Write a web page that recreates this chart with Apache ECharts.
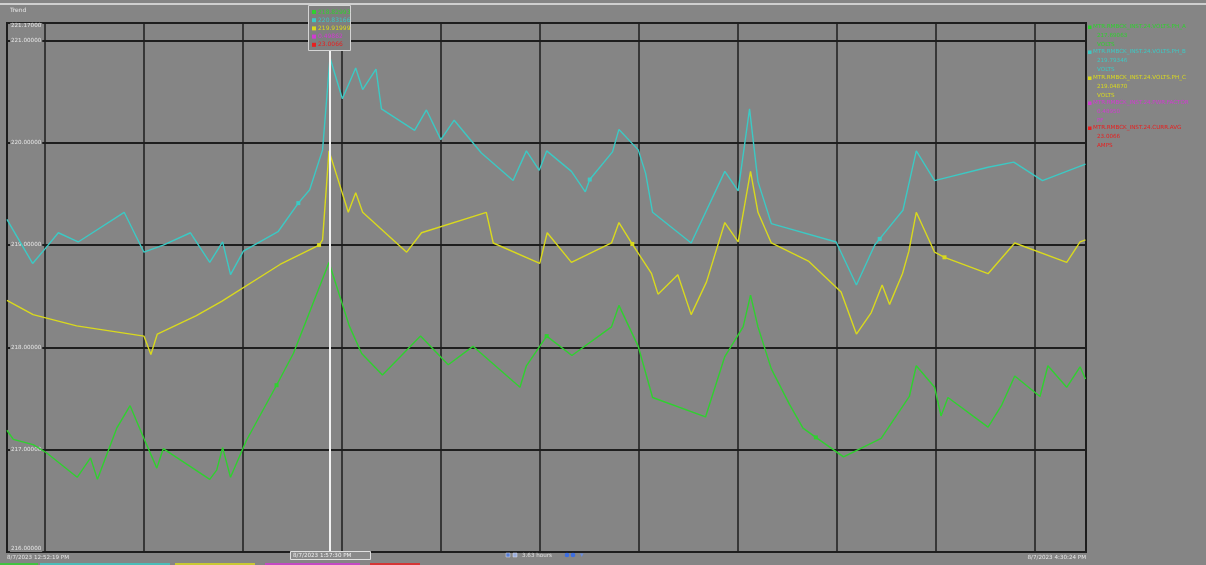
<!DOCTYPE html>
<html><head><meta charset="utf-8">
<script src="https://cdn.jsdelivr.net/npm/echarts@6/dist/echarts.min.js"></script>
<style>html,body{margin:0;padding:0;background:#858585;}#c{width:1206px;height:565px;}</style>
</head><body><div id="c"></div>
<script>
// time in minutes since midnight, values in trend units
const xMin = 772.32, xMax = 990.4, cursorT = 837.5;
const yTicks = [216, 217, 218, 219, 220, 221];

const greenTimes = [772.3,773.6,777.6,780.3,786.5,789.2,790.6,794.5,797.2,800.0,802.6,803.9,813.3,814.7,815.9,817.5,820.7,826.8,830.2,837.4,841.5,844.0,848.2,855.9,861.5,866.5,876.0,877.3,881.4,886.5,894.5,896.0,899.9,902.8,913.5,917.4,921.1,922.6,924.1,926.8,930.5,933.2,935.8,941.4,949.0,954.7,956.1,959.8,961.1,962.5,970.6,973.3,976.0,981.1,982.7,986.5,989.2,990.3];
const greenValues = [217.19,217.10,217.05,216.97,216.73,216.92,216.71,217.21,217.43,217.11,216.82,217.01,216.71,216.80,217.02,216.73,217.09,217.63,217.94,218.83,218.21,217.94,217.73,218.11,217.83,218.01,217.61,217.82,218.11,217.92,218.20,218.41,218.01,217.51,217.32,217.91,218.20,218.51,218.20,217.79,217.44,217.21,217.12,216.93,217.11,217.52,217.82,217.61,217.33,217.51,217.22,217.43,217.72,217.52,217.82,217.61,217.81,217.69];
const greenMarkers = [17, 28, 42];

const cyanTimes = [772.3,777.5,780.3,782.7,786.7,796.0,800.0,803.9,809.4,813.3,815.9,817.5,820.1,827.1,831.2,833.5,836.1,837.6,840.1,842.8,844.2,846.9,848.0,854.7,857.1,860.0,862.7,868.2,874.6,877.3,879.9,881.4,886.4,889.2,890.1,894.7,896.0,899.9,901.4,902.8,910.6,917.4,920.1,922.4,924.1,926.8,939.9,944.0,947.7,948.7,953.4,956.1,959.8,970.6,975.8,981.6,990.3];
const cyanValues = [219.25,218.82,218.98,219.12,219.03,219.32,218.93,219.00,219.12,218.83,219.03,218.71,218.94,219.13,219.41,219.54,219.93,220.83,220.43,220.73,220.52,220.72,220.33,220.12,220.32,220.03,220.22,219.90,219.63,219.92,219.73,219.92,219.72,219.52,219.64,219.91,220.13,219.93,219.70,219.32,219.02,219.72,219.53,220.33,219.62,219.21,219.03,218.61,219.00,219.06,219.34,219.92,219.63,219.76,219.81,219.63,219.79];
const cyanMarkers = [14, 34, 49];

const yellowTimes = [772.3,777.6,786.4,800.0,801.4,802.7,810.6,815.7,827.5,835.4,836.1,837.4,841.3,842.8,844.2,853.1,856.1,869.2,870.6,880.0,881.5,886.4,894.5,896.0,898.7,902.6,903.9,907.9,910.6,913.7,917.4,920.1,922.6,924.1,926.8,934.4,940.9,944.0,947.0,949.2,950.7,953.3,954.6,956.1,959.8,961.8,970.6,976.0,986.5,989.2,990.3];
const yellowValues = [218.46,218.32,218.21,218.11,217.93,218.13,218.31,218.45,218.81,219.00,219.05,219.92,219.32,219.51,219.32,218.93,219.12,219.32,219.02,218.82,219.12,218.83,219.02,219.22,219.01,218.72,218.52,218.71,218.32,218.64,219.22,219.03,219.72,219.32,219.02,218.84,218.54,218.13,218.34,218.61,218.42,218.72,218.94,219.32,218.93,218.88,218.72,219.02,218.83,219.03,219.05];
const yellowMarkers = [9, 24, 45];

const traceNames = ['MTR.RMBCK_INST.24.VOLTS.PH_A','MTR.RMBCK_INST.24.VOLTS.PH_B','MTR.RMBCK_INST.24.VOLTS.PH_C','MTR.RMBCK_INST.24.PWR.FACTOR','MTR.RMBCK_INST.24.CURR.AVG'];
const traceValues = ['217.69063','219.79346','219.04870','0.48950','23.0066'];
const traceUnits = ['VOLTS','VOLTS','VOLTS','PF','AMPS'];
const cursorValues = ['218.82993','220.83166','219.91999','0.49862','23.0066'];
const traceColors = ['#2fd12f','#3cc9c4','#d9d91e','#d23ad2','#e82020'];

function pad(n){return (n<10?'0':'')+n;}
function fmtTime(m){
  const s=Math.round(m*60); const h=Math.floor(s/3600); const mi=Math.floor((s%3600)/60); const se=s%60;
  const ap=h>=12?'PM':'AM'; let h12=h%12; if(h12===0)h12=12;
  return '8/7/2023 '+h12+':'+pad(mi)+':'+pad(se)+' '+ap;
}
function pairs(t,v){return t.map((x,i)=>[x,v[i]]);}
function marks(t,v,idx){return idx.map(i=>({coord:[t[i],v[i]]}));}

function lineSeries(name,t,v,idx,color,extra){
  const s = {
    name, type:'line', data:pairs(t,v), showSymbol:false, symbol:'none', silent:true,
    lineStyle:{color, width:1.4}, itemStyle:{color}, z:3,
    markPoint:{symbol:'rect', symbolSize:4, silent:true, label:{show:false}, itemStyle:{color}, data:marks(t,v,idx)}
  };
  return Object.assign(s, extra||{});
}

const chart = echarts.init(document.getElementById('c'), null, {renderer:'canvas'});

const graphics = [];
graphics.push({type:'rect', shape:{x:0,y:3,width:1206,height:2}, style:{fill:'#cfcfcf'}, z:10});
graphics.push({type:'text', x:10, y:7, style:{text:'Trend', fontSize:6, fill:'#e6e6e6', fontFamily:'DejaVu Sans'}, z:10});
graphics.push({type:'rect', shape:{x:308.5,y:5.5,width:42,height:45}, style:{fill:'#7e7e7e', stroke:'#d4d4d4', lineWidth:1}, z:20});
cursorValues.forEach((val,i)=>{
  const y = 9 + i*8.2;
  graphics.push({type:'rect', shape:{x:312,y:y+1,width:4,height:4}, style:{fill:traceColors[i]}, z:21});
  graphics.push({type:'text', x:318, y:y, style:{text:val, fontSize:6, fill:traceColors[i], fontFamily:'DejaVu Sans'}, z:21});
});
const legendTops = [24, 49, 75, 100, 125];
traceNames.forEach((nm,i)=>{
  const y = legendTops[i];
  graphics.push({type:'rect', shape:{x:1088,y:y+1.5,width:3.5,height:3.5}, style:{fill:traceColors[i]}, z:10});
  graphics.push({type:'text', x:1093, y:y, style:{text:nm, fontSize:5.6, fill:traceColors[i], fontFamily:'DejaVu Sans'}, z:10});
  graphics.push({type:'text', x:1097, y:y+9, style:{text:traceValues[i], fontSize:5.6, fill:traceColors[i], fontFamily:'DejaVu Sans'}, z:10});
  graphics.push({type:'text', x:1097, y:y+18, style:{text:traceUnits[i], fontSize:5.6, fill:traceColors[i], fontFamily:'DejaVu Sans'}, z:10});
});
graphics.push({type:'rect', shape:{x:290.5,y:551.5,width:80,height:8}, style:{fill:'#8a8a8a', stroke:'#e0e0e0', lineWidth:1}, z:20});
graphics.push({type:'text', x:293, y:553, style:{text:fmtTime(cursorT), fontSize:5.6, fill:'#f0f0f0', fontFamily:'DejaVu Sans'}, z:21});
graphics.push({type:'rect', shape:{x:506,y:553,width:4,height:4}, style:{fill:'#5a7fd0', stroke:'#dde', lineWidth:0.5}, z:10});
graphics.push({type:'rect', shape:{x:513,y:553,width:4,height:4}, style:{fill:'#9aaedd', stroke:'#dde', lineWidth:0.5}, z:10});
graphics.push({type:'text', x:522, y:553, style:{text:'3.63 hours', fontSize:5.6, fill:'#e0e0e0', fontFamily:'DejaVu Sans'}, z:10});
graphics.push({type:'circle', shape:{cx:567,cy:555,r:2.3}, style:{fill:'#3d6ee0'}, z:10});
graphics.push({type:'circle', shape:{cx:573,cy:555,r:2.3}, style:{fill:'#3d6ee0'}, z:10});
graphics.push({type:'text', x:580, y:552, style:{text:'▾', fontSize:7, fill:'#6a8ee0', fontFamily:'DejaVu Sans'}, z:10});
[[0,38,traceColors[0]],[40,170,traceColors[1]],[175,255,traceColors[2]],[265,360,traceColors[3]],[370,420,traceColors[4]]].forEach(s=>{
  graphics.push({type:'rect', shape:{x:s[0],y:563,width:s[1]-s[0],height:2}, style:{fill:s[2], opacity:0.8}, z:10});
});

const option = {
  animation:false,
  backgroundColor:'#858585',
  grid:{left:7, right:120, top:23, bottom:13, show:true, backgroundColor:'#858585', borderColor:'#1c1c1c', borderWidth:2},
  xAxis:{
    type:'value', min:xMin, max:xMax, minInterval:20, maxInterval:20, splitNumber:11,
    axisLine:{show:false}, axisTick:{show:false},
    splitLine:{show:true, lineStyle:{color:'#1e1e1e', width:1.5}},
    axisLabel:{show:true, fontSize:5.6, color:'#e6e6e6', margin:3, fontFamily:'DejaVu Sans',
      showMinLabel:true, showMaxLabel:true, alignMinLabel:'left', alignMaxLabel:'right',
      formatter:(v)=> (Math.abs(v-xMin)<0.01||Math.abs(v-xMax)<0.01)? fmtTime(v) : ''}
  },
  yAxis:{
    type:'value', min:yTicks[0], max:221.17, interval:1,
    axisLine:{show:false}, axisTick:{show:false},
    splitLine:{show:true, lineStyle:{color:'#1e1e1e', width:2}},
    axisLabel:{inside:true, fontSize:5.6, color:'#e6e6e6', margin:3, fontFamily:'DejaVu Sans',
      backgroundColor:'#858585', padding:[0,1,0,1],
      showMinLabel:true, showMaxLabel:true, verticalAlignMaxLabel:'top', verticalAlignMinLabel:'bottom',
      formatter:(v)=>v.toFixed(5)}
  },
  series:[
    lineSeries('Phase A', greenTimes, greenValues, greenMarkers, traceColors[0], {
      markLine:{silent:true, symbol:'none', label:{show:false}, lineStyle:{color:'#f2f2f2', width:2, type:'solid'}, data:[{xAxis:cursorT}]}
    }),
    lineSeries('Phase B', cyanTimes, cyanValues, cyanMarkers, traceColors[1]),
    lineSeries('Phase C', yellowTimes, yellowValues, yellowMarkers, traceColors[2])
  ],
  graphic:graphics
};
chart.setOption(option);
</script></body></html>
